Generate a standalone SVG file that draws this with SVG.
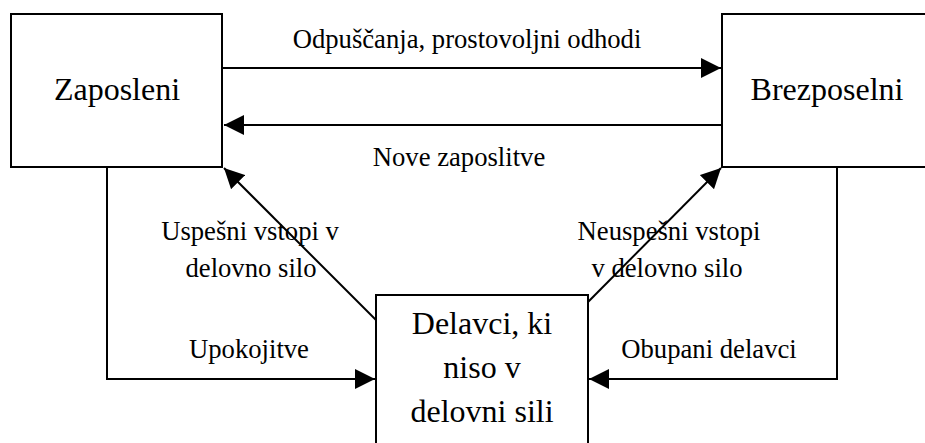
<svg xmlns="http://www.w3.org/2000/svg" width="925" height="443" viewBox="0 0 925 443">
<defs>
<marker id="ah" markerUnits="userSpaceOnUse" markerWidth="20" markerHeight="20" refX="20" refY="10" orient="auto" viewBox="0 0 20 20">
<path d="M0,0 L20,10 L0,20 z" fill="#000"/>
</marker>
</defs>
<rect width="925" height="443" fill="#fff"/>
<g id="connectors" fill="none" stroke="#000" stroke-width="2">
<line x1="223" y1="68" x2="721" y2="68" marker-end="url(#ah)"/>
<line x1="722" y1="125" x2="224" y2="125" marker-end="url(#ah)"/>
<line x1="376" y1="320" x2="224" y2="168" marker-end="url(#ah)"/>
<line x1="588" y1="302" x2="721" y2="168" marker-end="url(#ah)"/>
<polyline points="107,167 107,379 375,379" marker-end="url(#ah)"/>
<polyline points="837,167 837,379 589,379" marker-end="url(#ah)"/>
</g>
<g id="labels" fill="#000" text-anchor="middle">
<text x="467" y="48" font-family="Liberation Serif" font-size="26.67">Odpuščanja, prostovoljni odhodi</text>
<text x="459" y="166" font-family="Liberation Serif" font-size="26.67">Nove zaposlitve</text>
<text x="250" y="240" font-family="Liberation Serif" font-size="26.67">Uspešni vstopi v</text>
<text x="251" y="277" font-family="Liberation Serif" font-size="26.67">delovno silo</text>
<text x="669" y="240" font-family="Liberation Serif" font-size="26.67">Neuspešni vstopi</text>
<text x="667" y="277" font-family="Liberation Serif" font-size="26.67">v delovno silo</text>
<text x="249" y="358" font-family="Liberation Serif" font-size="26.67">Upokojitve</text>
<text x="709" y="358" font-family="Liberation Serif" font-size="26.67">Obupani delavci</text>
</g>
<g id="zaposleni" text-anchor="middle">
<rect x="11" y="14" width="211" height="153" fill="#fff" stroke="#000" stroke-width="2"/>
<text x="117" y="100" fill="#000" font-family="Liberation Serif" font-size="32">Zaposleni</text>
</g>
<g id="brezposelni" text-anchor="middle">
<rect x="722" y="14" width="210" height="153" fill="#fff" stroke="#000" stroke-width="2"/>
<text x="827" y="100" fill="#000" font-family="Liberation Serif" font-size="32">Brezposelni</text>
</g>
<g id="delavci" text-anchor="middle">
<rect x="376" y="295" width="212" height="160" fill="#fff" stroke="#000" stroke-width="2"/>
<text x="482" y="334" fill="#000" font-family="Liberation Serif" font-size="32">Delavci, ki</text>
<text x="482" y="378" fill="#000" font-family="Liberation Serif" font-size="32">niso v</text>
<text x="482" y="422" fill="#000" font-family="Liberation Serif" font-size="32">delovni sili</text>
</g>
</svg>
